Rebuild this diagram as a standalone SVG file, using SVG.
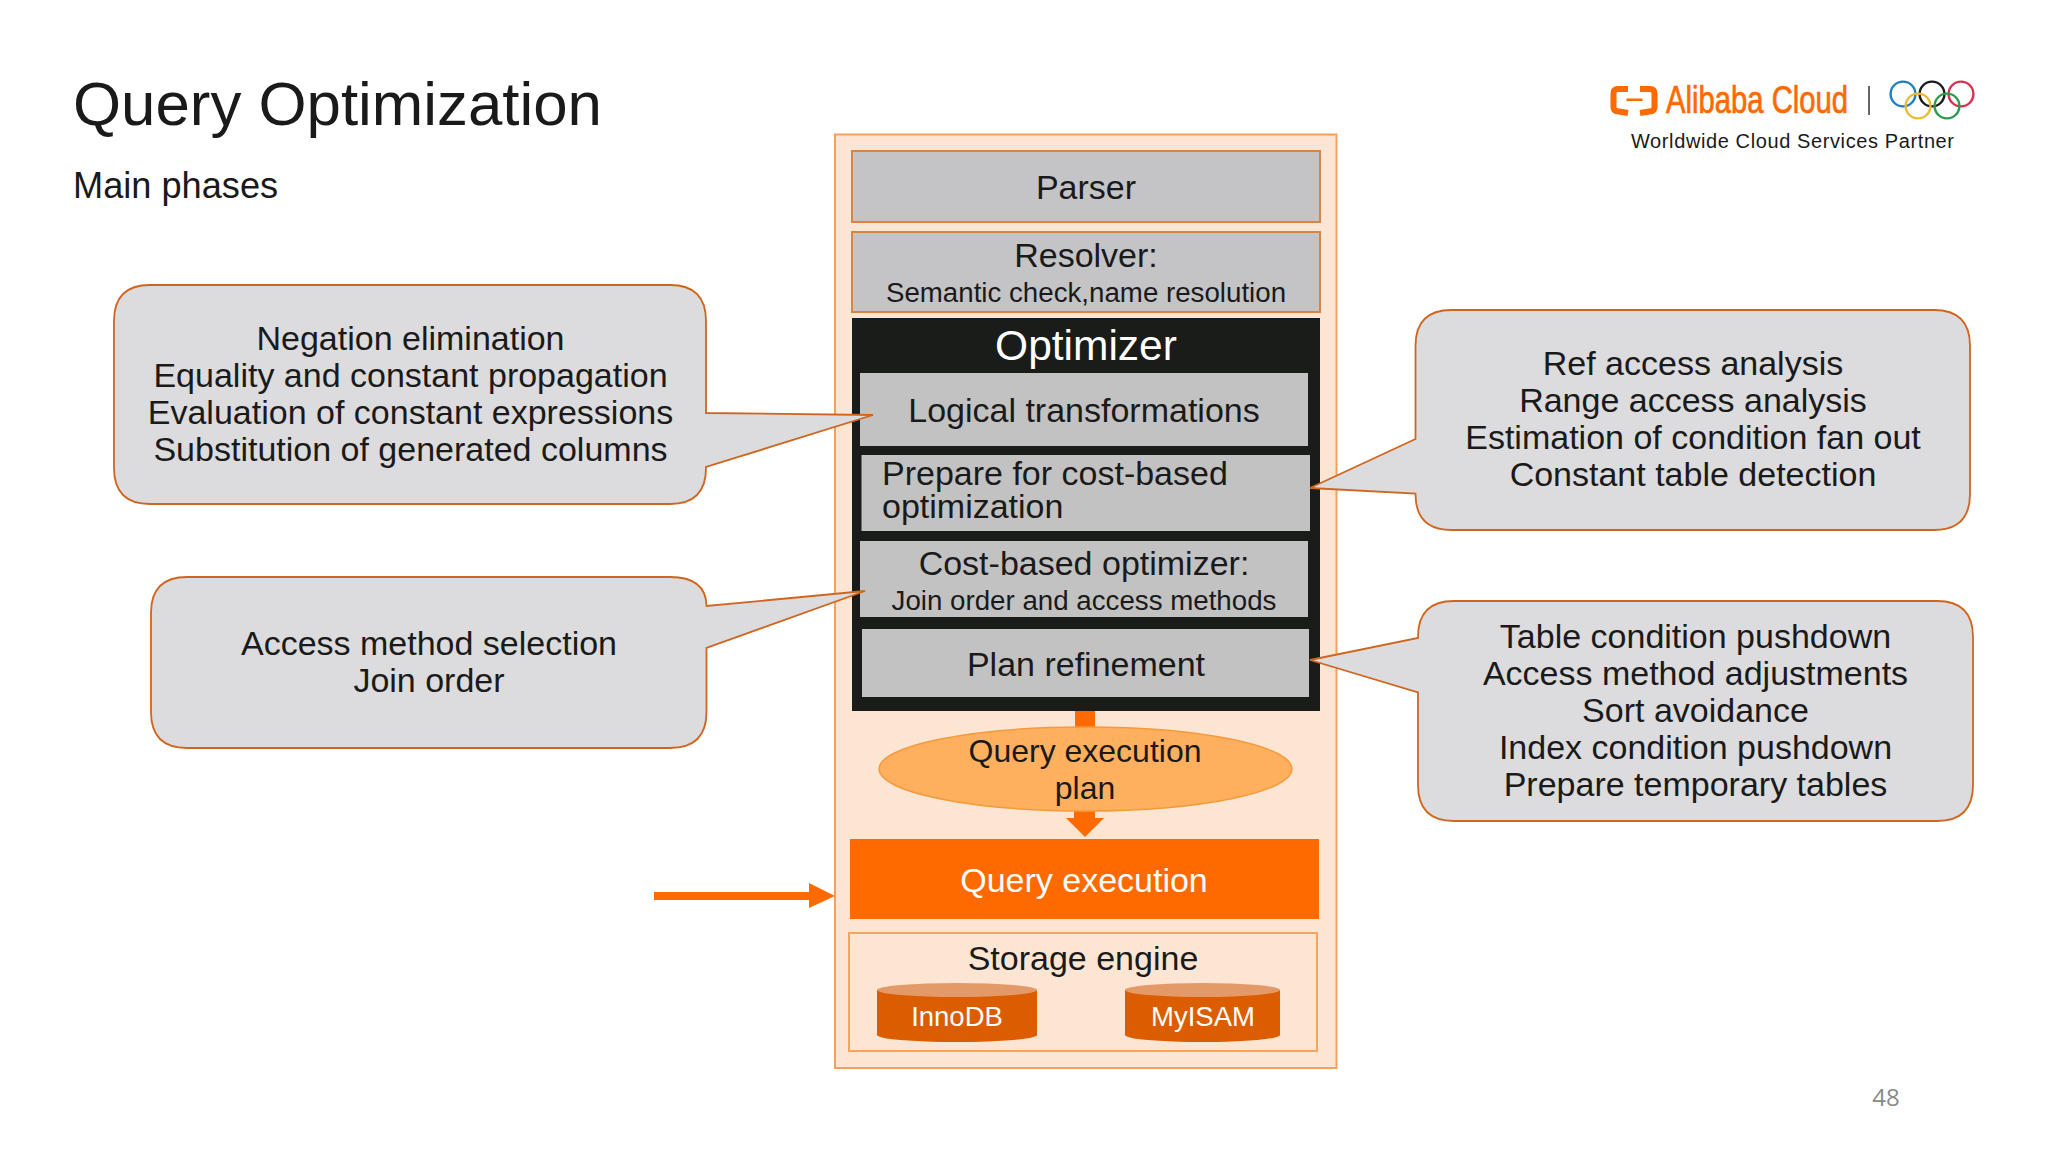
<svg xmlns="http://www.w3.org/2000/svg" width="2048" height="1152" viewBox="0 0 2048 1152">
<style>
text{font-family:"Liberation Sans",Arial,sans-serif;fill:#1a1a1a}
.m{text-anchor:middle}
.c{font-size:34px;text-anchor:middle}
.s{font-size:27.7px;text-anchor:middle}
.w{fill:#fff}
.call{fill:#dcdbdd;stroke:#d0661e;stroke-width:1.8}
.top{fill:#c4c3c6;stroke:#d68545;stroke-width:2}
.sub{fill:#c2c2c3}
.cyl{fill:#dc5c00}
.cylt{fill:#e49a68}
.arr{fill:#ff6a00}
.ring{fill:none;stroke-width:2.4}
</style>
<rect width="2048" height="1152" fill="#fff"/>
<text id="title" x="73" y="125" font-size="61.8">Query Optimization</text>
<text id="subtitle" x="73" y="198" font-size="36.200">Main phases</text>
<g id="logo">
<path d="M1628 89H1618Q1613.500 89 1613.500 93.500V107Q1613.500 110 1616 111L1628 113M1640 89H1650Q1654.500 89 1654.500 93.500V107Q1654.500 110 1652 111L1640 113" fill="none" stroke="#ff6a00" stroke-width="6"/>
<rect x="1626.500" y="98.500" width="16" height="2.500" fill="#ff6a00"/>
<text x="1666" y="113" font-size="38" style="fill:#ff6a00;stroke:#ff6a00;stroke-width:.7" textLength="182" lengthAdjust="spacingAndGlyphs">Alibaba Cloud</text>
<rect x="1868" y="86" width="2" height="29" fill="#666"/>
<circle class="ring" cx="1903" cy="94" r="12.4" stroke="#1f7fc4"/>
<circle class="ring" cx="1932" cy="94" r="12.4" stroke="#1a1a1a"/>
<circle class="ring" cx="1961" cy="94" r="12.4" stroke="#d6314f"/>
<circle class="ring" cx="1918" cy="106" r="12.4" stroke="#efb932"/>
<circle class="ring" cx="1947" cy="106" r="12.4" stroke="#2d9a4c"/>
<text x="1631" y="148" font-size="20" textLength="323">Worldwide Cloud Services Partner</text>
</g>
<g id="stack-bg"><rect x="835" y="134.5" width="501.5" height="933.5" fill="#fde5d3" stroke="#f4a15f" stroke-width="2"/></g>
<g id="parser"><rect class="top" x="852" y="151" width="468" height="71"/><text class="c" x="1086" y="199">Parser</text></g>
<g id="resolver"><rect class="top" x="852" y="232" width="468" height="80"/><text class="c" x="1086" y="267">Resolver:</text><text class="s" x="1086" y="302">Semantic check,name resolution</text></g>
<g id="optimizer"><rect x="852" y="318" width="468" height="393" fill="#1a1c1a"/><text class="m w" x="1086" y="360" font-size="42.500">Optimizer</text></g>
<g id="logical"><rect class="sub" x="860" y="373" width="448" height="73"/><text class="c" x="1084" y="422">Logical transformations</text></g>
<g id="prepare"><rect class="sub" x="861.500" y="455" width="448.500" height="76"/><text x="882" y="485" font-size="34">Prepare for cost-based</text><text x="882" y="518" font-size="34">optimization</text></g>
<g id="cost"><rect class="sub" x="860" y="541" width="448" height="76"/><text class="c" x="1084" y="575">Cost-based optimizer:</text><text class="s" x="1084" y="610">Join order and access methods</text></g>
<g id="plan"><rect class="sub" x="862" y="629" width="447" height="68"/><text class="c" x="1086" y="676">Plan refinement</text></g>
<g id="connectors">
<rect class="arr" x="1075" y="711" width="20" height="17"/>
<path class="arr" d="M1074 810H1095V818H1104L1085 837L1066 818H1074Z"/>
<path class="arr" d="M654 892H809V883L835 896L809 908V900H654Z"/>
</g>
<g id="plan-ellipse"><ellipse cx="1085.500" cy="769" rx="206.500" ry="42" fill="#ffb05f" stroke="#f59a3a" stroke-width="1.500"/><text class="m" x="1085" y="762" font-size="32">Query execution</text><text class="m" x="1085" y="799" font-size="32">plan</text></g>
<g id="execution"><rect x="850" y="839" width="469" height="80" fill="#ff6a00"/><text class="m w" x="1084" y="892" font-size="34">Query execution</text></g>
<g id="storage"><rect x="849" y="933" width="468" height="118" fill="none" stroke="#f5a45a" stroke-width="2"/><text class="c" x="1083" y="970">Storage engine</text></g>
<g id="innodb"><path class="cyl" d="M877 990V1035A80 7 0 0 0 1037 1035V990Z"/><ellipse class="cylt" cx="957" cy="990" rx="80" ry="7"/><text class="m w" x="957" y="1026" font-size="27.500">InnoDB</text></g>
<g id="myisam"><path class="cyl" d="M1125 990V1035A77.500 7 0 0 0 1280 1035V990Z"/><ellipse class="cylt" cx="1202.500" cy="990" rx="77.500" ry="7"/><text class="m w" x="1203" y="1026" font-size="27.500">MyISAM</text></g>
<g id="callout-logical"><path class="call" d="M150 285H670Q706 285 706 321V413L873 415L706 467V468Q706 504 670 504H150Q114 504 114 468V321Q114 285 150 285Z"/><text class="c" x="410.500" y="350">Negation elimination</text><text class="c" x="410.500" y="387">Equality and constant propagation</text><text class="c" x="410.500" y="424">Evaluation of constant expressions</text><text class="c" x="410.500" y="461">Substitution of generated columns</text></g>
<g id="callout-access"><path class="call" d="M187 577H670Q706 577 706.500 606L865 591L706.500 648V712Q706.500 748 670 748H187Q151 748 151 712V613Q151 577 187 577Z"/><text class="c" x="429" y="655">Access method selection</text><text class="c" x="429" y="692">Join order</text></g>
<g id="callout-prepare"><path class="call" d="M1451.500 310H1934Q1970 310 1970 346V494Q1970 530 1934 530H1451.500Q1415.500 530 1415.500 494V493.500L1310 488L1415.500 439V346Q1415.500 310 1451.500 310Z"/><text class="c" x="1693" y="375">Ref access analysis</text><text class="c" x="1693" y="412">Range access analysis</text><text class="c" x="1693" y="449">Estimation of condition fan out</text><text class="c" x="1693" y="486">Constant table detection</text></g>
<g id="callout-plan"><path class="call" d="M1454 601H1937Q1973 601 1973 637V785Q1973 821 1937 821H1454Q1418 821 1418 785V692.500L1310 660L1418 638V637Q1418 601 1454 601Z"/><text class="c" x="1695.500" y="648">Table condition pushdown</text><text class="c" x="1695.500" y="685">Access method adjustments</text><text class="c" x="1695.500" y="721.500">Sort avoidance</text><text class="c" x="1695.500" y="759">Index condition pushdown</text><text class="c" x="1695.500" y="796">Prepare temporary tables</text></g>
<text id="page" class="m" x="1886" y="1106" font-size="24" style="fill:#8a8a8a;font-family:'Open Sans',sans-serif">48</text>
</svg>
